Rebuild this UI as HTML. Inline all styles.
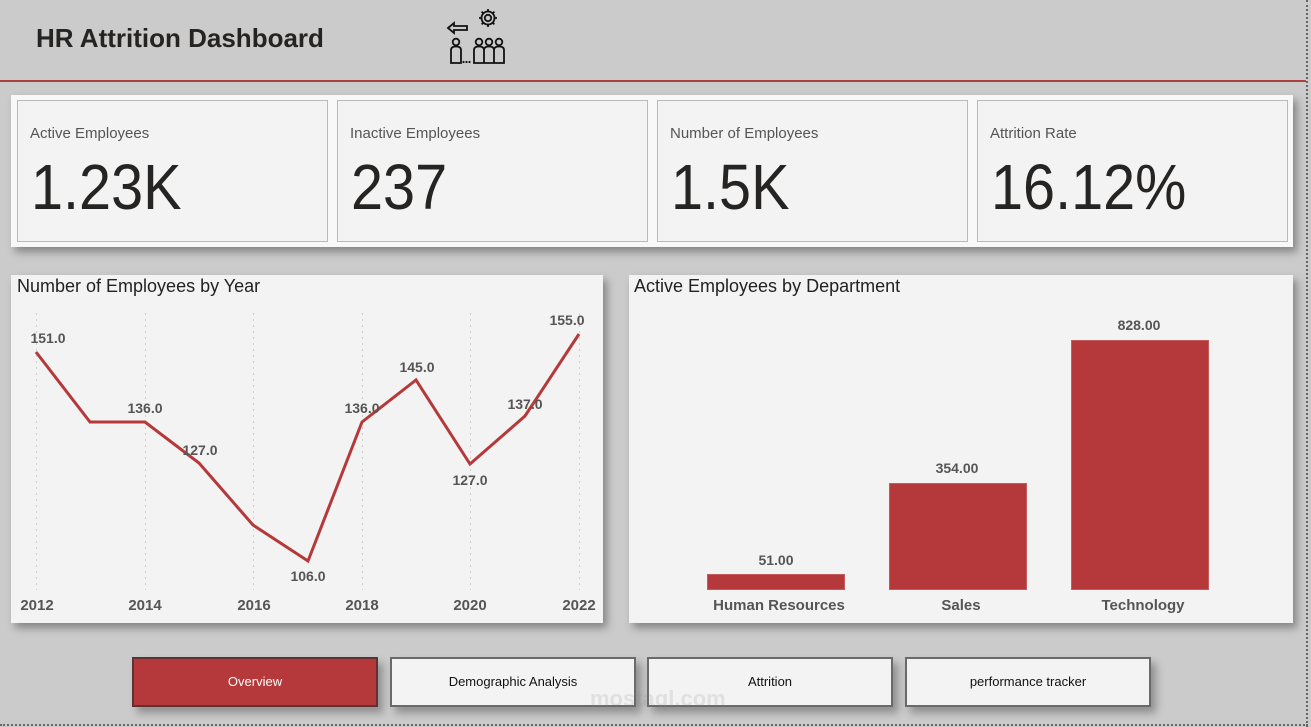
<!DOCTYPE html>
<html><head><meta charset="utf-8">
<style>
*{margin:0;padding:0;box-sizing:border-box}
body{width:1311px;height:727px;background:#cbcbcb;position:relative;overflow:hidden;font-family:"Liberation Sans",sans-serif}
.abs{position:absolute}
#title{left:36px;top:23px;font-size:26px;font-weight:bold;color:#252423;letter-spacing:0}
#redline{left:0;top:80px;width:1306px;height:2px;background:#a8413f}
#vdots{left:1306px;top:0;width:0;height:727px;border-left:2px dotted #666}
#hdots{left:0;top:724px;width:1308px;height:0;border-top:2px dotted #666}
#kpi{left:11px;top:95px;width:1282px;height:152px;background:#f8f8f8;box-shadow:4px 5px 8px rgba(0,0,0,.35)}
.card{position:absolute;top:5px;width:311px;height:142px;background:#f3f3f3;border:1px solid #b9b9b9}
.card .lbl{position:absolute;left:12px;top:24px;font-size:15px;color:#555}
.card .val{position:absolute;left:13px;top:49px;font-size:64px;color:#252423;transform:scaleX(.9);transform-origin:left}
.panel{position:absolute;top:275px;height:348px;background:#f3f3f3;box-shadow:4px 5px 8px rgba(0,0,0,.35)}
.ptitle{position:absolute;left:6px;top:1px;font-size:18px;color:#222}
.btn{position:absolute;top:657px;width:246px;height:50px;background:#f3f3f3;border:2px solid #6a6a6a;box-shadow:5px 6px 8px rgba(0,0,0,.3);font-size:13px;color:#111;text-align:center;line-height:46px}
</style></head><body>
<div id="title" class="abs">HR Attrition Dashboard</div>
<svg class="abs" style="left:0;top:0" width="520" height="70" viewBox="0 0 520 70">
 <g fill="none" stroke="#111" stroke-width="1.8">
  <circle cx="488" cy="18" r="3.2"/>
  <circle cx="488" cy="18" r="6.5"/>
  <path d="M488 9v2.5M488 24.5v2.5M479 18h2.5M494.5 18h2.5M481.6 11.6l1.8 1.8M492.6 22.6l1.8 1.8M481.6 24.4l1.8-1.8M492.6 13.4l1.8-1.8"/>
  <path d="M448 28l6-5v3h13v4h-13v3z"/>
  <circle cx="456" cy="42" r="3.3"/>
  <path d="M451 63V50q0-3.5 5-3.5t5 3.5v13z"/>
  <circle cx="479" cy="42" r="3.3"/><circle cx="489" cy="42" r="3.3"/><circle cx="499" cy="42" r="3.3"/>
  <path d="M474 63V50q0-3.5 5-3.5t5 3.5v13zM484 63V50q0-3.5 5-3.5t5 3.5v13zM494 63V50q0-3.5 5-3.5t5 3.5v13z"/>
 </g>
 <g fill="#111"><circle cx="463.5" cy="62" r="1.1"/><circle cx="466.5" cy="62" r="1.1"/><circle cx="469.5" cy="62" r="1.1"/></g>
</svg>
<div id="redline" class="abs"></div>
<div id="vdots" class="abs"></div>
<div id="hdots" class="abs"></div>

<div id="kpi" class="abs">
 <div class="card" style="left:6px"><div class="lbl">Active Employees</div><div class="val">1.23K</div></div>
 <div class="card" style="left:326px"><div class="lbl">Inactive Employees</div><div class="val">237</div></div>
 <div class="card" style="left:646px"><div class="lbl">Number of Employees</div><div class="val">1.5K</div></div>
 <div class="card" style="left:966px"><div class="lbl">Attrition Rate</div><div class="val">16.12%</div></div>
</div>

<div class="panel" style="left:11px;width:592px">
 <div class="ptitle">Number of Employees by Year</div>
</div>
<div class="panel" style="left:629px;width:664px">
 <div class="ptitle" style="left:5px">Active Employees by Department</div>
</div>

<svg class="abs" style="left:0;top:0" width="1311" height="727" viewBox="0 0 1311 727">
 <g stroke="#cfcfcf" stroke-width="1" stroke-dasharray="2,4">
  <line x1="36.5" y1="313" x2="36.5" y2="590"/>
  <line x1="145.5" y1="313" x2="145.5" y2="590"/>
  <line x1="253.5" y1="313" x2="253.5" y2="590"/>
  <line x1="362.5" y1="313" x2="362.5" y2="590"/>
  <line x1="470.5" y1="313" x2="470.5" y2="590"/>
  <line x1="579.5" y1="313" x2="579.5" y2="590"/>
 </g>
 <polyline fill="none" stroke="#b5393a" stroke-width="3" stroke-linejoin="miter"
  points="36,352 90,422 145,422 199,463 253,525 308,561 362,422 416,380 470,464 525,416 579,334"/>
 <g font-family="Liberation Sans, sans-serif" font-weight="bold" font-size="14" fill="#555" text-anchor="middle">
  <text x="48" y="343">151.0</text>
  <text x="145" y="413">136.0</text>
  <text x="200" y="455">127.0</text>
  <text x="308" y="581">106.0</text>
  <text x="362" y="413">136.0</text>
  <text x="417" y="372">145.0</text>
  <text x="470" y="485">127.0</text>
  <text x="525" y="409">137.0</text>
  <text x="567" y="325">155.0</text>
 </g>
 <g font-family="Liberation Sans, sans-serif" font-weight="bold" font-size="15" fill="#555" text-anchor="middle">
  <text x="37" y="610">2012</text>
  <text x="145" y="610">2014</text>
  <text x="254" y="610">2016</text>
  <text x="362" y="610">2018</text>
  <text x="470" y="610">2020</text>
  <text x="579" y="610">2022</text>
 </g>
 <g fill="#b5393a" stroke="#c45c5c" stroke-width="1">
  <rect x="707.5" y="574.5" width="137" height="15"/>
  <rect x="889.5" y="483.5" width="137" height="106"/>
  <rect x="1071.5" y="340.5" width="137" height="249"/>
 </g>
 <g font-family="Liberation Sans, sans-serif" font-weight="bold" font-size="14" fill="#555" text-anchor="middle">
  <text x="776" y="565">51.00</text>
  <text x="957" y="473">354.00</text>
  <text x="1139" y="330">828.00</text>
 </g>
 <g font-family="Liberation Sans, sans-serif" font-weight="bold" font-size="15" fill="#555" text-anchor="middle">
  <text x="779" y="610">Human Resources</text>
  <text x="961" y="610">Sales</text>
  <text x="1143" y="610">Technology</text>
 </g>
</svg>

<div class="btn" style="left:132px;background:#b5393a;border-color:#5e3232;color:#fff">Overview</div>
<div class="btn" style="left:390px">Demographic Analysis</div>
<div class="btn" style="left:647px">Attrition</div>
<div class="btn" style="left:905px">performance tracker</div>
<div class="abs" style="left:590px;top:686px;font-size:22px;color:rgba(140,140,140,.18);font-weight:bold">mostaql.com</div>
</body></html>
